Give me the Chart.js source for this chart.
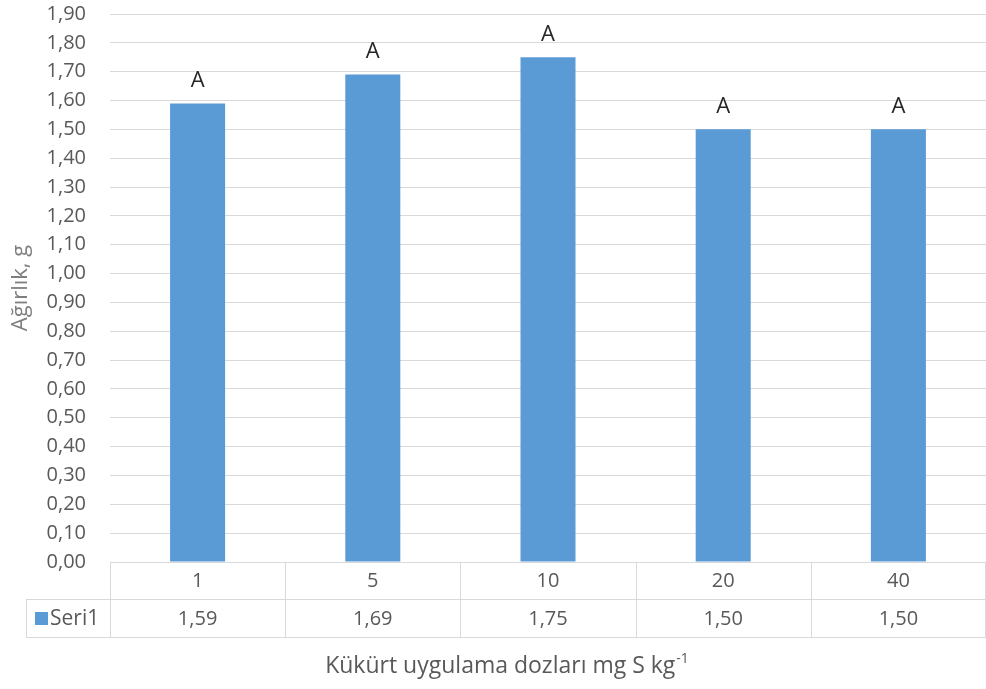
<!DOCTYPE html>
<html>
<head>
<meta charset="utf-8">
<script src="https://cdn.jsdelivr.net/npm/chart.js@4.4.0/dist/chart.umd.min.js"></script>
<style>
    html, body { margin: 0; padding: 0; background: #fff; }
    #kutu { width: 986px; height: 689px; position: relative; }
</style>
</head>
<body>
<div id="kutu"><canvas id="agirlik-grafik"></canvas></div>
<script>
// Veriler
var dozlar = ['1', '5', '10', '20', '40'];
var agirlik = [1.59, 1.69, 1.75, 1.50, 1.50];
var harfler = ['A', 'A', 'A', 'A', 'A'];
var seriAdi = 'Seri1';
var yEksenBasligi = 'Ağırlık, g';
var xEksenBasligi = 'Kükürt uygulama dozları mg S kg';
var xEksenUs = '-1';

var yazi = '"Open Sans", "DejaVu Sans", sans-serif';
var gri = '#595959';
var cizgi = '#d9d9d9';
var mavi = '#5B9BD5';

function virgullu(v) {
    return v.toFixed(2).replace('.', ',');
}

// Çubukların üstündeki harfler
var harfPlugin = {
    id: 'harfler',
    afterDatasetsDraw: function(chart) {
        var ctx = chart.ctx;
        var meta = chart.getDatasetMeta(0);
        ctx.save();
        ctx.font = '22px ' + yazi;
        ctx.fillStyle = '#262626';
        ctx.textAlign = 'center';
        ctx.textBaseline = 'middle';
        meta.data.forEach(function(bar, i) {
            ctx.fillText(harfler[i], bar.x, bar.y - 23);
        });
        ctx.restore();
    }
};

// Grafiğin altındaki veri tablosu ve x ekseni başlığı
var tabloPlugin = {
    id: 'veriTablosu',
    afterDraw: function(chart) {
        var ctx = chart.ctx;
        var alan = chart.chartArea;
        var x = chart.scales.x;
        var ust = alan.bottom, orta = alan.bottom + 37, alt = alan.bottom + 75;
        var sol = 26;
        var adim = x.getPixelForValue(1) - x.getPixelForValue(0);

        ctx.save();
        ctx.strokeStyle = cizgi;
        ctx.lineWidth = 1;
        ctx.beginPath();
        ctx.moveTo(alan.left, ust + 0.5); ctx.lineTo(alan.right, ust + 0.5);
        ctx.moveTo(sol, orta + 0.5); ctx.lineTo(alan.right, orta + 0.5);
        ctx.moveTo(sol, alt + 0.5); ctx.lineTo(alan.right, alt + 0.5);
        ctx.moveTo(sol + 0.5, orta); ctx.lineTo(sol + 0.5, alt);
        for (var i = 0; i <= dozlar.length; i++) {
            var sx = Math.round(x.getPixelForValue(i) - adim / 2) + 0.5;
            if (i === dozlar.length) sx = Math.min(sx, alan.right - 0.5);
            ctx.moveTo(sx, ust); ctx.lineTo(sx, alt);
        }
        ctx.stroke();

        ctx.fillStyle = gri;
        ctx.font = '20px ' + yazi;
        ctx.textAlign = 'center';
        ctx.textBaseline = 'middle';
        dozlar.forEach(function(d, i) {
            var cx = x.getPixelForValue(i);
            ctx.fillText(d, cx, (ust + orta) / 2 + 1);
            ctx.fillText(virgullu(agirlik[i]), cx, (orta + alt) / 2 + 1);
        });

        // Lejant anahtarı
        ctx.fillStyle = mavi;
        ctx.fillRect(35, orta + 13, 13, 13);
        ctx.fillStyle = gri;
        ctx.textAlign = 'left';
        ctx.font = '21px ' + yazi;
        ctx.fillText(seriAdi, 50, (orta + alt) / 2 + 1);

        // x ekseni başlığı
        ctx.font = '23px ' + yazi;
        var anaG = ctx.measureText(xEksenBasligi).width;
        ctx.font = '14px ' + yazi;
        var usG = ctx.measureText(xEksenUs).width;
        var basX = 507 - (anaG + usG + 1) / 2;
        var tabanY = 673;
        ctx.textBaseline = 'alphabetic';
        ctx.font = '23px ' + yazi;
        ctx.fillText(xEksenBasligi, basX, tabanY);
        ctx.font = '14px ' + yazi;
        ctx.fillText(xEksenUs, basX + anaG + 1, tabanY - 10);
        ctx.restore();
    }
};

var ctx = document.getElementById('agirlik-grafik').getContext('2d');
var grafik = new Chart(ctx, {
    type: 'bar',
    data: {
        labels: dozlar,
        datasets: [{
            label: seriAdi,
            data: agirlik,
            backgroundColor: mavi,
            borderWidth: 0,
            barPercentage: 1,
            categoryPercentage: 0.314
        }]
    },
    options: {
        responsive: true,
        maintainAspectRatio: false,
        animation: false,
        layout: { padding: { top: 14, right: 0, bottom: 127, left: 0 } },
        plugins: {
            legend: { display: false },
            tooltip: { enabled: false }
        },
        scales: {
            x: {
                display: false
            },
            y: {
                min: 0,
                max: 1.9,
                afterFit: function(scale) {
                    scale.width = 110;
                    scale.paddingTop = 0;
                    scale.paddingBottom = 0;
                },
                ticks: {
                    stepSize: 0.1,
                    padding: 24,
                    color: gri,
                    font: { family: yazi, size: 20 },
                    callback: function(v) { return virgullu(v); }
                },
                grid: { color: cizgi, drawTicks: false },
                border: { display: false },
                title: {
                    display: true,
                    text: yEksenBasligi,
                    color: '#7f7f7f',
                    font: { family: yazi, size: 22 },
                    padding: { top: 8, bottom: 0 }
                }
            }
        }
    },
    plugins: [harfPlugin, tabloPlugin]
});
</script>
</body>
</html>
